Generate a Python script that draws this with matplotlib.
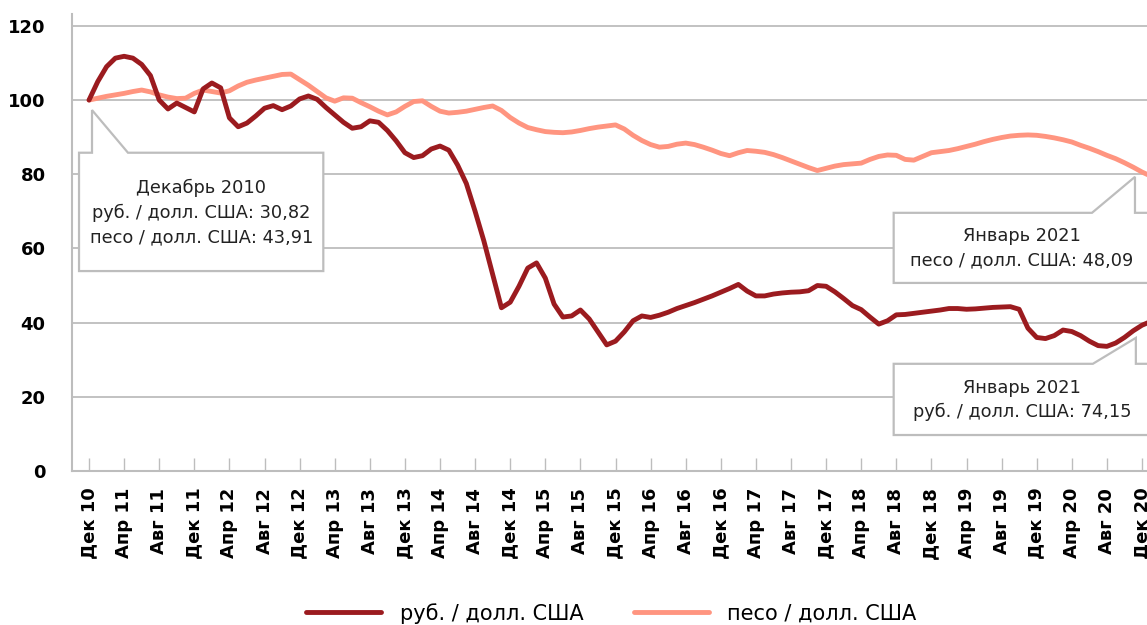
import matplotlib.pyplot as plt
from matplotlib.patches import Polygon

plt.rcParams['font.family'] = ['DejaVu Sans']

# месяцы от декабря 2010 (0) до января 2021 (121)
rub = [100, 105, 109, 111.3, 111.8, 111.3, 109.6, 106.6, 100, 97.6,
       99.2, 98, 96.8, 103, 104.6, 103.3, 95.2, 92.8, 93.8, 95.7,
       97.8, 98.5, 97.4, 98.4, 100.3, 101.1, 100.2, 98, 96, 94,
       92.4, 92.8, 94.4, 94, 91.8, 89, 85.8, 84.5, 85, 86.8,
       87.6, 86.5, 82.5, 77.5, 70, 62, 53, 44, 45.5, 49.8,
       54.7, 56.1, 52, 45, 41.5, 41.8, 43.4, 41, 37.5, 34,
       35, 37.5, 40.5, 41.8, 41.4, 42, 42.8, 43.8, 44.6, 45.4,
       46.3, 47.2, 48.2, 49.2, 50.3, 48.5, 47.2, 47.2, 47.7, 48,
       48.2, 48.3, 48.6, 50, 49.8, 48.3, 46.5, 44.6, 43.5, 41.5,
       39.6, 40.5, 42.1, 42.2, 42.5, 42.8, 43.1, 43.4, 43.8, 43.8,
       43.6, 43.7, 43.9, 44.1, 44.2, 44.3, 43.6, 38.5, 36, 35.7,
       36.5, 38, 37.6, 36.5, 35, 33.8, 33.6, 34.5, 36, 37.8,
       39.3, 40.3]
peso = [100, 100.5, 101, 101.4, 101.8, 102.3, 102.7, 102.2, 101.4, 100.8,
        100.4, 100.5, 101.8, 102.7, 102.3, 101.9, 102.5, 103.8, 104.8, 105.4,
        105.9, 106.4, 106.9, 107, 105.5, 104, 102.3, 100.6, 99.7, 100.6,
        100.5, 99.3, 98.2, 97, 96, 96.8, 98.3, 99.6, 99.8, 98.3,
        97, 96.5, 96.7, 97, 97.5, 98, 98.4, 97.2, 95.3, 93.8,
        92.6, 92, 91.5, 91.3, 91.2, 91.4, 91.8, 92.3, 92.7, 93,
        93.3, 92.2, 90.5, 89.1, 88, 87.3, 87.5, 88.1, 88.4, 88,
        87.3, 86.5, 85.6, 85, 85.8, 86.4, 86.2, 85.9, 85.3, 84.5,
        83.6, 82.7, 81.8, 81, 81.6, 82.2, 82.6, 82.8, 83, 84,
        84.8, 85.2, 85.1, 84, 83.8, 84.8, 85.8, 86.1, 86.4, 86.9,
        87.5, 88.1, 88.8, 89.4, 89.9, 90.3, 90.5, 90.6, 90.5, 90.2,
        89.8, 89.3, 88.7, 87.8, 87, 86.1, 85.1, 84.2, 83.1, 81.9,
        80.6, 79.5]
months = list(range(len(rub)))

tick_pos = list(range(0, 121, 4))
tick_labels = ["Дек 10", "Апр 11", "Авг 11", "Дек 11", "Апр 12", "Авг 12", "Дек 12",
               "Апр 13", "Авг 13", "Дек 13", "Апр 14", "Авг 14", "Дек 14", "Апр 15",
               "Авг 15", "Дек 15", "Апр 16", "Авг 16", "Дек 16", "Апр 17", "Авг 17",
               "Дек 17", "Апр 18", "Авг 18", "Дек 18", "Апр 19", "Авг 19", "Дек 19",
               "Апр 20", "Авг 20", "Дек 20"]

RUB_COLOR = '#9b1b1f'
PESO_COLOR = '#ff9580'
GREY = '#bdbdbd'

fig = plt.figure(figsize=(11.47, 6.25), dpi=100)
ax = fig.add_axes([72 / 1147, 154 / 625, 1075 / 1147, 457 / 625])

ax.plot(months, rub, color=RUB_COLOR, lw=3.5, label='руб. / долл. США',
        solid_capstyle='round', solid_joinstyle='round', zorder=3)
ax.plot(months, peso, color=PESO_COLOR, lw=3.5, label='песо / долл. США',
        solid_capstyle='round', solid_joinstyle='round', zorder=2)

ax.set_xlim(-1.94, 120.57)
ax.set_ylim(0, 123.2)
ax.set_yticks([0, 20, 40, 60, 80, 100, 120])
ax.set_xticks(tick_pos)
ax.set_xticklabels(tick_labels, rotation=90, fontsize=13, fontweight='bold', va='top')
for lbl in ax.get_yticklabels():
    lbl.set_fontweight('bold')
ax.tick_params(axis='y', length=0, labelsize=13, pad=19)
ax.tick_params(axis='x', direction='in', length=9.5, color=GREY, width=1, pad=12)
for y in [20, 40, 60, 80, 100, 120]:
    ax.axhline(y, color=GREY, lw=1.3, zorder=1)
for s in ['top', 'right']:
    ax.spines[s].set_visible(False)
for s in ['left', 'bottom']:
    ax.spines[s].set_color(GREY)
    ax.spines[s].set_linewidth(1.5)

# выноски
def callout(verts, lines, cx, cy):
    poly = Polygon(verts, closed=True, facecolor='white', edgecolor=GREY,
                   lw=1.6, zorder=5, clip_on=True)
    ax.add_patch(poly)
    ax.text(cx, cy, "\n".join(lines), ha='center', va='center', fontsize=12.8,
            linespacing=1.45, color='#222222', zorder=6)

callout([(-1.14, 85.8), (0.34, 85.8), (0.34, 97.3), (4.44, 85.8), (26.7, 85.8),
         (26.7, 53.9), (-1.14, 53.9)],
        ["Декабрь 2010", "руб. / долл. США: 30,82", "песо / долл. США: 43,91"],
        12.8, 69.6)
callout([(91.7, 69.6), (114.3, 69.6), (119.2, 79.3), (119.2, 69.6), (126, 69.6),
         (126, 50.7), (91.7, 50.7)],
        ["Январь 2021", "песо / долл. США: 48,09"],
        106.3, 60.0)
callout([(91.7, 28.9), (114.4, 28.9), (119.3, 35.9), (119.3, 28.9), (126, 28.9),
         (126, 9.7), (91.7, 9.7)],
        ["Январь 2021", "руб. / долл. США: 74,15"],
        106.3, 19.1)

fig.legend(loc='lower center', bbox_to_anchor=(0.533, -0.028), ncol=2, frameon=False,
           fontsize=15, handlelength=3.6, columnspacing=2.4, handletextpad=0.9)

fig.savefig('out.png', dpi=100)
